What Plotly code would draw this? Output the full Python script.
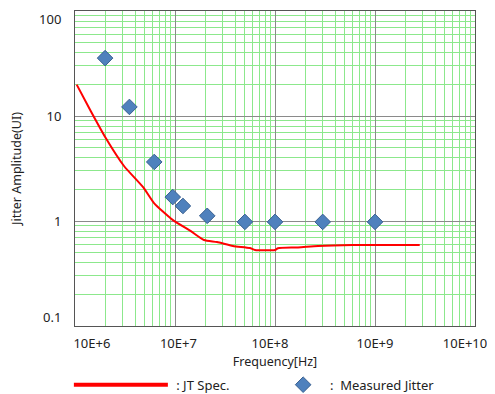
import plotly.graph_objects as go

# JT spec curve
spec_freq = [1.04e6, 1.44e6, 2.03e6, 3.09e6, 4.8e6, 6.17e6, 9.4e6, 1.44e7, 1.95e7,
             2.63e7, 3.8e7, 5.6e7, 6.3e7, 1.0e8, 1.07e8, 1.7e8, 2.7e8, 6.0e8, 2.8e9]
spec_ui = [19.9, 11.1, 6.17, 3.34, 2.1, 1.48, 1.03, 0.80, 0.66,
           0.63, 0.578, 0.553, 0.53, 0.53, 0.55, 0.56, 0.578, 0.59, 0.59]

# Measured jitter points
meas_freq = [2.0e6, 3.5e6, 6.2e6, 9.5e6, 1.2e7, 2.1e7, 5.0e7, 1.0e8, 3.0e8, 1.0e9]
meas_ui = [35.6, 12.2, 3.65, 1.69, 1.39, 1.12, 0.98, 0.98, 0.98, 0.98]

NB = "\u00a0"
BL = "\u2800"  # blank spacer glyph (keeps label clear of the page edge)
x_tickvals = [1e6, 1e7, 1e8, 1e9, 1e10]
x_ticktext = [NB * 10 + "10E+6", NB * 2 + "10E+7", "10E+8" + BL, "10E+9",
              "10E+10" + BL * 2]
y_tickvals = [0.1, 1, 10, 100]
y_ticktext = ["0.1<br>" + NB, "1", "10", NB + "<br>100"]

FONT = "Noto Sans"
RED = "#ff0000"
BLUE = "#4f81bd"

fig = go.Figure()
fig.add_trace(go.Scatter(x=spec_freq, y=spec_ui, mode="lines",
                         line=dict(color=RED, width=2, shape="spline", smoothing=0.6),
                         showlegend=False, hoverinfo="skip"))
fig.add_trace(go.Scatter(x=meas_freq, y=meas_ui, mode="markers",
                         marker=dict(symbol="diamond", size=12, color=BLUE,
                                     line=dict(color="#3a6190", width=1)),
                         showlegend=False))
# legend-only entries
fig.add_trace(go.Scatter(x=[None], y=[None], mode="lines", name=NB + ": JT Spec.",
                         line=dict(color=RED, width=4), legend="legend"))
fig.add_trace(go.Scatter(x=[None], y=[None], mode="markers",
                         name=NB + NB + ":" + NB + NB + "Measured Jitter",
                         marker=dict(symbol="diamond", size=12, color=BLUE,
                                     line=dict(color="#3a6190", width=1)),
                         legend="legend2"))

grid_minor = "rgb(140,232,140)"
grid_major = "#8a8a8a"

fig.update_xaxes(type="log", range=[6, 10], tickvals=x_tickvals, ticktext=x_ticktext,
                 showgrid=True, gridcolor=grid_major, gridwidth=1,
                 minor=dict(dtick="D1", showgrid=True, gridcolor=grid_minor, gridwidth=1),
                 showline=True, linecolor="#555555", linewidth=1, mirror=True,
                 ticks="outside", ticklen=5, tickcolor="rgba(0,0,0,0)",
                 ticklabeloverflow="allow", automargin=False,
                 tickfont=dict(family=FONT, size=13, color="#222222"),
                 title=dict(text="Frequency[Hz]", font=dict(family=FONT, size=12.5, color="#222222"),
                            standoff=12),
                 zeroline=False)
fig.update_yaxes(type="log", range=[-1, 2], tickvals=y_tickvals, ticktext=y_ticktext,
                 showgrid=True, gridcolor=grid_major, gridwidth=1,
                 minor=dict(dtick="D1", showgrid=True, gridcolor=grid_minor, gridwidth=1),
                 showline=True, linecolor="#555555", linewidth=1, mirror=True,
                 ticks="outside", ticklen=10, tickcolor="rgba(0,0,0,0)",
                 ticklabeloverflow="allow", automargin=False,
                 tickfont=dict(family=FONT, size=13, color="#222222"),
                 title=dict(text="Jitter Amplitude(UI)", font=dict(family=FONT, size=12.5, color="#222222"),
                            standoff=20),
                 zeroline=False)

fig.update_layout(
    width=487, height=386,
    margin=dict(l=67, r=20, t=3, b=68, autoexpand=False),
    paper_bgcolor="white", plot_bgcolor="white",
    font=dict(family=FONT, size=12, color="#222222"),
    legend=dict(xref="container", yref="container", x=0.125, y=0.024,
                xanchor="left", yanchor="middle",
                orientation="h", itemwidth=94, bgcolor="rgba(0,0,0,0)",
                font=dict(family=FONT, size=13, color="#222222")),
    legend2=dict(xref="container", yref="container", x=0.565, y=0.024,
                 xanchor="left", yanchor="middle",
                 orientation="h", itemwidth=30, bgcolor="rgba(0,0,0,0)",
                 font=dict(family=FONT, size=13, color="#222222")),
)

fig.write_html("out.html")
